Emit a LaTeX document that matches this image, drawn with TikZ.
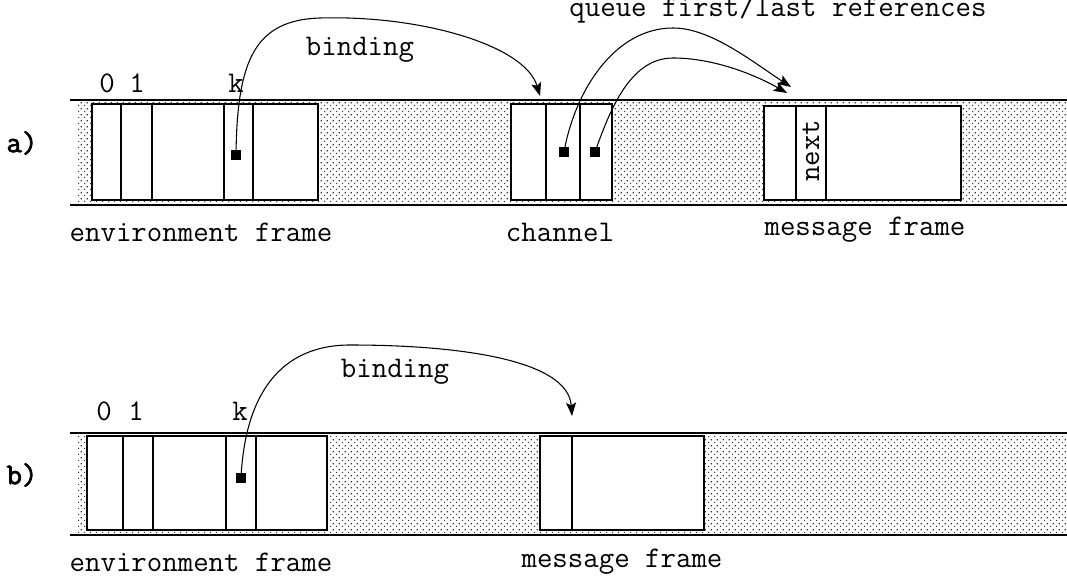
\documentclass[tikz,border=0pt]{standalone}
\usepackage{fontspec}
\newfontfamily\tagfont[AutoFakeBold=2.5]{Latin Modern Mono}
\usetikzlibrary{patterns,fit,arrows.meta}
\pgfdeclarepatternformonly{stagdots}{\pgfpointorigin}{\pgfpoint{4.2pt}{4.2pt}}{\pgfpoint{4.2pt}{4.2pt}}{%
  \pgfpathrectangle{\pgfpoint{0pt}{0pt}}{\pgfpoint{0.95pt}{0.95pt}}%
  \pgfpathrectangle{\pgfpoint{2.1pt}{2.1pt}}{\pgfpoint{0.95pt}{0.95pt}}%
  \pgfusepath{fill}}
\begin{document}
\begin{tikzpicture}[x=0.75pt,y=-0.75pt,
  box/.style={draw, line width=1pt, fill=white, inner sep=0pt, outer sep=0pt},
  divline/.style={line width=1pt},
  hline/.style={line width=1.1pt},
  band/.style={pattern=stagdots, pattern color=black!80},
  sq/.style={fill=black, minimum size=7.5pt, inner sep=0pt},
  arr/.style={line width=0.8pt, -{Stealth[length=10pt,width=7.5pt,inset=2pt]}},
  lbl/.style={font=\ttfamily\fontsize{22.5}{26}\selectfont, inner sep=0pt},
  tag/.style={font=\tagfont\bfseries\fontsize{22.5}{26}\selectfont, inner sep=0pt},
]
\useasboundingbox (0,0) rectangle (1067,577);

% ---------------- panel a ----------------
\fill[band] (76,103) rectangle (1067,202);
\draw[hline] (70,100) -- (1067,100);
\draw[hline] (70,205) -- (1067,205);

\node[box, fit={(92,104) (318,200)}] (envA) {};
\foreach \x in {121,152,224,253} \draw[divline] (\x,104) -- (\x,200);

\node[box, fit={(511,104) (612,200)}] (chan) {};
\foreach \x in {546,580} \draw[divline] (\x,104) -- (\x,200);

\node[box, fit={(764,106) (961,200)}] (msgA) {};
\foreach \x in {796,826} \draw[divline] (\x,106) -- (\x,200);
\node[lbl, rotate=90] (next) at (811,151) {next};

\node[sq] (sqA) at (236,155) {};
\node[sq] (sqC1) at (564,152) {};
\node[sq] (sqC2) at (595,152) {};

\node[lbl] (a0) at (107,83) {0};
\node[lbl] (a1) at (137,83) {1};
\node[lbl] (ak) at (236,83) {k};

\coordinate (bindAend) at (540,96);
\coordinate (q1end) at (791,87);
\coordinate (q2end) at (787,93);

\draw[arr] (sqA.center) .. controls (237,60) and (255,20) .. (320,18)
  .. controls (420,15) and (525,45) .. (bindAend);
\draw[arr] (sqC1.center) .. controls (575,90) and (615,28) .. (673,28)
  .. controls (710,28) and (750,60) .. (q1end);
\draw[arr] (sqC2.center) .. controls (610,110) and (630,58) .. (673,58)
  .. controls (710,58) and (750,72) .. (q2end);

\node[lbl] (bindAlbl) at (360,50) {binding};
\node[lbl, anchor=base] (queuelbl) at (778,17) {queue first/last references};

\node[lbl] (envAlbl) at (201,232) {environment frame};
\node[lbl] (chanlbl) at (560,232) {channel};
\node[lbl] (msgAlbl) at (865,230) {message frame};
\node[tag] (tagA) at (22,143) {a)};

% ---------------- panel b ----------------
\fill[band] (76,436) rectangle (1067,532);
\draw[hline] (70,433) -- (1067,433);
\draw[hline] (70,535) -- (1067,535);

\node[box, fit={(87,436) (327,530)}] (envB) {};
\foreach \x in {123,153,226,256} \draw[divline] (\x,436) -- (\x,530);

\node[box, fit={(540,436) (704,530)}] (msgB) {};
\draw[divline] (572,436) -- (572,530);

\node[sq] (sqB) at (241,478) {};

\node[lbl] (b0) at (104,411) {0};
\node[lbl] (b1) at (136,411) {1};
\node[lbl] (bk) at (240,411) {k};

\coordinate (bindBend) at (572,416);
\draw[arr] (sqB.center) .. controls (245,395) and (280,345) .. (350,345)
  .. controls (460,345) and (568,360) .. (bindBend);

\node[lbl] (bindBlbl) at (395,372) {binding};
\node[lbl] (envBlbl) at (201,562) {environment frame};
\node[lbl] (msgBlbl) at (622,562) {message frame};
\node[tag] (tagB) at (22,475) {b)};
\end{tikzpicture}
\end{document}
